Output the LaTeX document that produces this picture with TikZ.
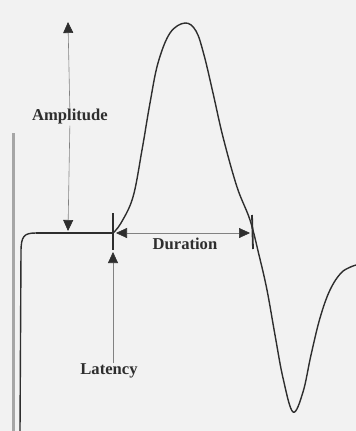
\documentclass[tikz,border=0pt]{standalone}
\usepackage{fontspec}
\setmainfont{Liberation Serif}
\usetikzlibrary{arrows.meta}
\definecolor{paper}{gray}{0.95}
\definecolor{ink}{gray}{0.18}
\tikzset{
  wave/.style={draw=ink, line width=1.4pt, line join=round},
  base/.style={draw=ink, line width=2.4pt},
  tickmark/.style={draw=ink, line width=1.8pt},
  dimline/.style={draw=ink!60, line width=0.6pt},
  tipend/.style={-{Triangle[length=11pt,width=10pt,color=ink]}},
  tipboth/.style={{Triangle[length=11pt,width=10pt,color=ink]}-{Triangle[length=11pt,width=10pt,color=ink]}},
  lbl/.style={font=\fontsize{16.6}{18}\selectfont\bfseries, text=ink, inner sep=1pt},
}
\begin{document}
\begin{tikzpicture}[x=1pt,y=-1pt]
  \fill[paper] (0,0) rectangle (356,431);
  \useasboundingbox (0,0) rectangle (356,431);
  % left frame bar
  \draw[draw=gray!70, line width=3pt] (13,133) -- (13,431);
  % coordinates
  \coordinate (tickA) at (113,233);
  \coordinate (tickD) at (252,233);
  \coordinate (ampTop) at (68,22);
  \coordinate (ampBot) at (68,231);
  \coordinate (durL) at (116,233);
  \coordinate (durR) at (250,233);
  \coordinate (latTip) at (113,252);
  % waveform
  \draw[wave] (20,431) -- (21,252) .. controls (21,236) and (24,233) .. (36,233);
  \draw[base] (36,233) -- (tickA);
  \draw[wave] plot[smooth, tension=0.6] coordinates {
    (113,233) (121,223) (133,197) (142,150) (150,103) (158,63) (170,33)
    (185,23) (196,31) (204,55) (213,93) (223,137) (237,187) (250,220)
    (259,255) (267,290) (275,335) (283,378) (293,412) (303,392) (311,355)
    (320,318) (330,290) (342,272) (356,265)};
  % tick marks
  \draw[tickmark] (113,213) -- (113,250);
  \draw[tickmark] (252,215) -- (253,249);
  % labels
  \node[lbl, fill=paper] (amplabel) at (70,117) {Amplitude};
  \node[lbl] (durlabel) at (185,244) {Duration};
  \node[lbl] (latlabel) at (109,371) {Latency};
  % dimension arrows
  \draw[dimline, tipend] (amplabel) -- (ampTop);
  \draw[dimline, tipend] (amplabel) -- (ampBot);
  \draw[dimline, tipboth] (durL) -- (durR);
  \draw[dimline, tipend] (latlabel.north -| latTip) -- (latTip);
\end{tikzpicture}
\end{document}
